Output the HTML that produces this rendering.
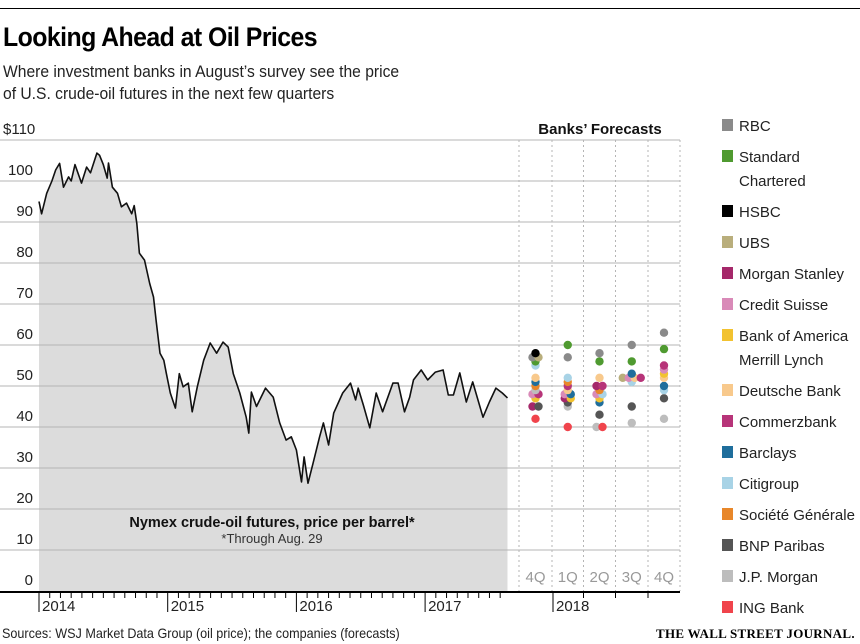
<!DOCTYPE html>
<html><head><meta charset="utf-8"><style>
body{margin:0;background:#fff;font-family:"Liberation Sans",sans-serif;}
#wrap{position:relative;width:860px;height:644px;overflow:hidden;}
.t{position:absolute;white-space:nowrap;}
</style></head><body>
<div id="wrap">
<div style="position:absolute;left:0;top:8px;width:860px;height:1px;background:#000"></div>
<div class="t" style="left:3px;top:22px;font-size:27px;font-weight:bold;letter-spacing:-0.6px;transform:scaleX(0.92);transform-origin:left">Looking Ahead at Oil Prices</div>
<div class="t" style="left:3px;top:61px;font-size:17px;line-height:22px;color:#222;transform:scaleX(0.92);transform-origin:left">Where investment banks in August’s survey see the price<br>of U.S. crude-oil futures in the next few quarters</div>
<svg id="chart" width="860" height="644" style="position:absolute;left:0;top:0"></svg>
<div class="t" style="left:2px;top:625px;font-size:14px;color:#222;transform:scaleX(0.9);transform-origin:left">Sources: WSJ Market Data Group (oil price); the companies (forecasts)</div>
<div class="t" style="left:656px;top:626px;font-family:'Liberation Serif',serif;font-size:13px;font-weight:bold;letter-spacing:0.3px">THE WALL STREET JOURNAL.</div>
</div>
<script>
const yTicks=[0,10,20,30,40,50,60,70,80,90,100,110];
const years=[2014,2015,2016,2017,2018];
const priceDates=[2014.00,2014.02,2014.06,2014.10,2014.13,2014.16,2014.19,2014.23,2014.25,2014.28,2014.33,2014.37,2014.40,2014.45,2014.47,2014.50,2014.53,2014.54,2014.57,2014.61,2014.64,2014.68,2014.72,2014.74,2014.76,2014.78,2014.82,2014.86,2014.89,2014.91,2014.94,2014.97,2014.99,2015.02,2015.06,2015.09,2015.12,2015.16,2015.19,2015.23,2015.28,2015.33,2015.38,2015.43,2015.47,2015.51,2015.56,2015.61,2015.63,2015.65,2015.69,2015.76,2015.82,2015.87,2015.92,2015.96,2016.00,2016.04,2016.06,2016.09,2016.13,2016.18,2016.21,2016.25,2016.29,2016.36,2016.42,2016.46,2016.48,2016.52,2016.57,2016.62,2016.67,2016.75,2016.79,2016.84,2016.88,2016.91,2016.97,2017.02,2017.08,2017.14,2017.18,2017.22,2017.27,2017.32,2017.37,2017.45,2017.50,2017.55,2017.60,2017.64];
const prices=[95,92,97,100,102.7,104.3,98.5,101,100,104,99.5,103.4,102,106.8,106.3,104,100.7,104.4,98.5,97,93.7,94.6,92,94,89.7,82.4,80.7,75,71.7,66,58,56.3,53,48.3,44.6,53,49.8,50.7,43.7,49.8,56.3,60.5,58,60.7,59.5,53,48.3,42.4,38.5,48.5,45,49.5,47.3,41,36.8,37.6,34.4,26.6,32.7,26.3,31.2,37.6,41,35.6,43.4,48.3,50.7,46.6,49.5,45.4,39.8,48.3,43.7,50.7,50.7,43.7,47.3,51.5,53.9,51.5,53.4,53.9,47.8,47.8,53.2,46.1,51,42.4,46.1,49.5,48.3,47.1];
const quarters=["4Q","1Q","2Q","3Q","4Q"];
const banks=["RBC","Standard Chartered","HSBC","UBS","Morgan Stanley","Credit Suisse","Bank of America Merrill Lynch","Deutsche Bank","Commerzbank","Barclays","Citigroup","Société Générale","BNP Paribas","J.P. Morgan","ING Bank"];
const bankColors=["#8a8a8a","#4f9a30","#000000","#b9ae7c","#a5286a","#d98ab8","#f2c230","#f8c98c","#b73479","#1f6e9c","#a8d3e6","#e8872a","#555555","#bdbdbd","#f0444c"];
const fc4Q17=[57,56,58,57,45,48,47,52,48,51,55,50,45,49,42];
const fc1Q18=[57,60,null,null,47,48,47,49,50,48,52,51,46,45,40];
const fc2Q18=[58,56,null,null,50,48,47,52,50,46,48,49,43,40,40];
const fc3Q18=[60,56,null,52,null,52,null,52,52,53,51,null,45,41,null];
const fc4Q18=[63,59,null,null,null,54,53,52,55,50,49,null,47,42,null];
const forecasts=[fc4Q17,fc1Q18,fc2Q18,fc3Q18,fc4Q18];

const NS="http://www.w3.org/2000/svg";
const svg=document.getElementById('chart');
function mk(tag,attrs,parent){const e=document.createElementNS(NS,tag);for(const k in attrs)e.setAttribute(k,attrs[k]);(parent||svg).appendChild(e);return e;}
const y=v=>591-v*4.1;
const x=d=>39+(d-2014)*128.7;
const colEdges=[519,552,583.5,615.5,648,680];
const colX=i=>(colEdges[i]+colEdges[i+1])/2;

// shaded area
let dA=`M${x(priceDates[0])},${y(0)}`;
priceDates.forEach((d,i)=>dA+=` L${x(d).toFixed(1)},${y(prices[i]).toFixed(1)}`);
dA+=` L${x(priceDates[priceDates.length-1]).toFixed(1)},${y(0)} Z`;
const area=mk('path',{d:dA,fill:'#dcdcdc'});



// gridlines + labels
yTicks.forEach(v=>{
  if(v>0){const g=mk('line',{x1:0,x2:680,y1:y(v),y2:y(v),stroke:'#b5b5b5','stroke-width':1});
  
  }
  const t=mk('text',{x:v===110?3:33,y:y(v)-6,'font-size':15,fill:'#222','text-anchor':v===110?'start':'end','font-family':'Liberation Sans, sans-serif'});
  t.textContent=v===110?'$110':String(v);
  
  
});
// dashed column lines
colEdges.forEach(cx=>{
  const l=mk('line',{x1:cx,x2:cx,y1:140,y2:591,stroke:'#b5b5b5','stroke-dasharray':'2,3'});
  
  
});
// price line
let dL='';
priceDates.forEach((d,i)=>dL+=(i?' L':'M')+x(d).toFixed(1)+','+y(prices[i]).toFixed(1));
const line=mk('path',{d:dL,fill:'none',stroke:'#111','stroke-width':1.6,'stroke-linejoin':'round'});


// axis
const ax=mk('line',{x1:0,x2:680,y1:592,y2:592,stroke:'#000','stroke-width':2});


for(let m=0;m<44;m++){
  const d=2014+m/12, isYear=m%12===0;
  if(m>=45) break;
  const tk=mk('line',{x1:x(d),x2:x(d),y1:592,y2:isYear?612:598,stroke:'#000','stroke-width':1});
  
  
}
years.forEach(yr=>{
  const xx=yr===2018?553:x(yr);
  if(yr===2018){const tk=mk('line',{x1:xx,x2:xx,y1:592,y2:612,stroke:'#000'});}
  const t=mk('text',{x:xx+3,y:611,'font-size':15,fill:'#222','font-family':'Liberation Sans, sans-serif'});
  t.textContent=yr;
  
  
});
[583.5,615.5,648].forEach(cx=>{const tk=mk('line',{x1:cx,x2:cx,y1:592,y2:598,stroke:'#000'});});
quarters.forEach((q,i)=>{
  const t=mk('text',{x:colX(i),y:582,'font-size':15,fill:'#999','text-anchor':'middle','font-family':'Liberation Sans, sans-serif'});
  t.textContent=q;
  
  
});
// forecasts
forecasts.forEach((arr,qi)=>{
  const groups={};
  arr.forEach((v,bi)=>{if(v!=null){(groups[v]=groups[v]||[]).push(bi);}});
  Object.keys(groups).forEach(v=>{
    const g=groups[v];
    g.forEach((bi,k)=>{
      const off=(k-(g.length-1)/2)*6;
      const c=mk('circle',{cx:colX(qi)+off,cy:y(+v),r:4.2,fill:bankColors[bi]});
      
      
    });
  });
});
// annotations
const a1=mk('text',{x:272,y:527,'font-size':14.5,'font-weight':'bold','text-anchor':'middle',fill:'#111','font-family':'Liberation Sans, sans-serif'});
a1.textContent='Nymex crude-oil futures, price per barrel*';


const a2=mk('text',{x:272,y:543,'font-size':13,'text-anchor':'middle',fill:'#333','font-family':'Liberation Sans, sans-serif'});
a2.textContent='*Through Aug. 29';


const bf=mk('text',{x:600,y:134,'font-size':15,'font-weight':'bold','text-anchor':'middle',fill:'#111','font-family':'Liberation Sans, sans-serif'});
bf.textContent='Banks’ Forecasts';


// legend
const legendLines=[["RBC"],["Standard","Chartered"],["HSBC"],["UBS"],["Morgan Stanley"],["Credit Suisse"],["Bank of America","Merrill Lynch"],["Deutsche Bank"],["Commerzbank"],["Barclays"],["Citigroup"],["Société Générale"],["BNP Paribas"],["J.P. Morgan"],["ING Bank"]];
let ly=125;
legendLines.forEach((ls,i)=>{
  const g=mk('g',{});
  
  
  mk('rect',{x:722,y:ly-6,width:11,height:12,fill:bankColors[i]},g);
  ls.forEach((s,j)=>{
    const t=mk('text',{x:739,y:ly+6+j*24,'font-size':15,fill:'#222','font-family':'Liberation Sans, sans-serif'},g);
    t.textContent=s;
  });
  ly+=31+(ls.length-1)*24;
});
</script>
</body></html>
